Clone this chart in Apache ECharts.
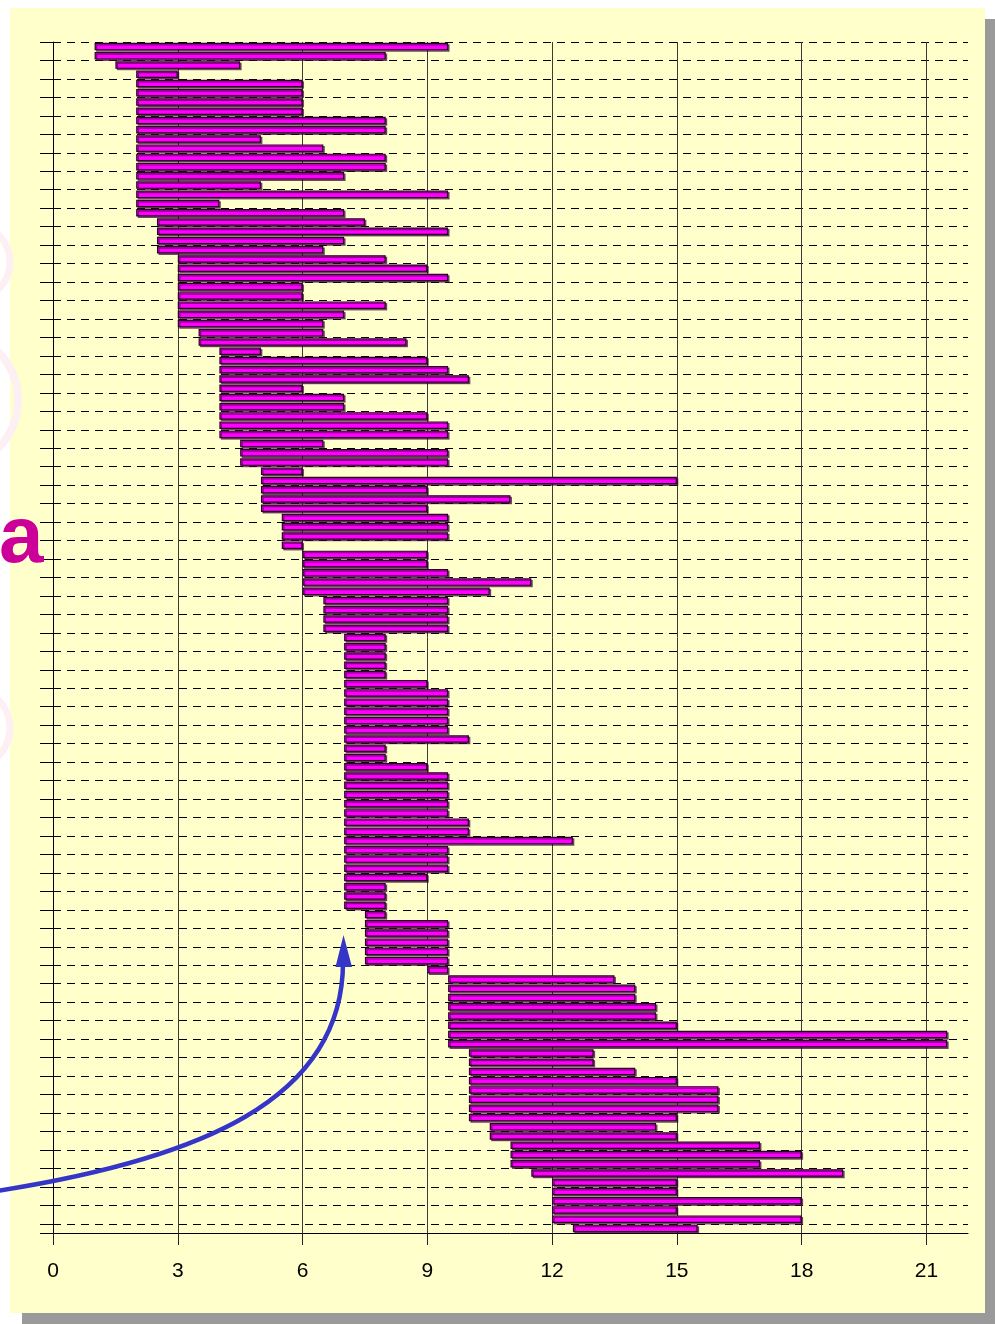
<!DOCTYPE html>
<html><head><meta charset="utf-8">
<script src="https://cdn.jsdelivr.net/npm/echarts@6/dist/echarts.min.js"></script>
<style>
html,body{margin:0;padding:0;background:#fff;}
#panel{position:absolute;left:10px;top:8px;width:975px;height:1305px;background:#FFFFCC;box-shadow:12px 11px 0 #9a9a9a;}
#chart{position:absolute;left:0;top:0;width:995px;height:1324px;}
</style></head><body>
<div id="panel"></div><div id="chart"></div>
<script>
// start and end of each horizontal bar, top row first
const rowStarts = [1,1,1.5,2,2,2,2,2,2,2,2,2,2,2,2,2,2,2,2,2.5,2.5,2.5,2.5,3,3,3,3,3,3,3,3,3.5,3.5,4,4,4,4,4,4,4,4,4,4,4.5,4.5,4.5,5,5,5,5,5,5.5,5.5,5.5,5.5,6,6,6,6,6,6.5,6.5,6.5,6.5,7,7,7,7,7,7,7,7,7,7,7,7,7,7,7,7,7,7,7,7,7,7,7,7,7,7,7,7,7,7,7.5,7.5,7.5,7.5,7.5,7.5,9,9.5,9.5,9.5,9.5,9.5,9.5,9.5,9.5,10,10,10,10,10,10,10,10,10.5,10.5,11,11,11,11.5,12,12,12,12,12,12.5];
const rowEnds   = [9.5,8,4.5,3,6,6,6,6,8,8,5,6.5,8,8,7,5,9.5,4,7,7.5,9.5,7,6.5,8,9,9.5,6,6,8,7,6.5,6.5,8.5,5,9,9.5,10,6,7,7,9,9.5,9.5,6.5,9.5,9.5,6,15,9,11,9,9.5,9.5,9.5,6,9,9,9.5,11.5,10.5,9.5,9.5,9.5,9.5,8,8,8,8,8,9,9.5,9.5,9.5,9.5,9.5,10,8,8,9,9.5,9.5,9.5,9.5,9.5,10,10,12.5,9.5,9.5,9.5,9,8,8,8,8,9.5,9.5,9.5,9.5,9.5,9.5,13.5,14,14,14.5,14.5,15,21.5,21.5,13,13,14,15,16,16,16,15,14.5,15,17,18,17,19,15,15,18,15,18,15.5];
const xTicks = [0,3,6,9,12,15,18,21];
const categories = rowStarts.map((_, i) => 'R' + (i + 1));

const chart = echarts.init(document.getElementById('chart'), null, {renderer:'canvas'});
const option = {
  backgroundColor: 'transparent',
  animation: false,
  grid: {left: 53, right: 27, top: 42, bottom: 91, containLabel: false, outerBoundsMode: 'none'},
  xAxis: {
    type: 'value', min: 0, max: 22,
    axisLine: {show: true, onZero: false, lineStyle: {color: '#000', width: 1}},
    axisTick: {show: true, length: 12, customValues: xTicks, lineStyle: {color: '#222'}},
    axisLabel: {customValues: xTicks, fontSize: 21, color: '#000', margin: 28, fontFamily: 'Liberation Sans'},
    splitLine: {show: true, lineStyle: {color: '#3a3a3a', width: 1, type: 'solid'}}
  },
  yAxis: {
    type: 'category', data: categories, inverse: true,
    axisLine: {show: true, lineStyle: {color: '#000', width: 1}},
    axisTick: {show: true, interval: 1, length: 13, lineStyle: {color: '#000'}},
    axisLabel: {show: false},
    splitLine: {show: true, interval: 1, lineStyle: {color: '#000', width: 1, type: [8, 6]}}
  },
  series: [
    {type: 'bar', stack: 'g', data: rowStarts, barWidth: 7.5, silent: true,
     itemStyle: {color: 'transparent', borderWidth: 0}},
    {type: 'bar', stack: 'g', data: rowEnds.map((e, i) => e - rowStarts[i]), barWidth: 7.5,
     itemStyle: {color: '#FF00FF', borderColor: '#2a0026', borderWidth: 1.2,
       shadowColor: 'rgba(50,0,50,0.6)', shadowOffsetX: 1.5, shadowOffsetY: 1.5, shadowBlur: 0}}
  ],
  graphic: [
    {type: 'circle', shape: {cx: -28, cy: 262, r: 38}, style: {fill: null, stroke: '#FDF0F3', lineWidth: 7}, z: -5},
    {type: 'circle', shape: {cx: -50, cy: 400, r: 68}, style: {fill: null, stroke: '#FDF0F3', lineWidth: 8}, z: -5},
    {type: 'circle', shape: {cx: -30, cy: 728, r: 40}, style: {fill: null, stroke: '#FDF0F3', lineWidth: 7}, z: -5},
    {type: 'text', x: -1, y: 500, z: 50,
     style: {text: 'a', font: 'bold 80px "Liberation Sans"', fill: '#CC0099', verticalAlign: 'top'}},
    {type: 'bezierCurve', z: 100,
     shape: {x1: -10, y1: 1192, cpx1: 200, cpy1: 1160, cpx2: 343, cpy2: 1100, x2: 343, y2: 962},
     style: {stroke: '#3535C8', lineWidth: 4.5, fill: null}},
    {type: 'polygon', z: 100, shape: {points: [[343.5, 935], [335.5, 967], [352, 967]]}, style: {fill: '#3535C8'}}
  ]
};
chart.setOption(option);
</script>
</body></html>
